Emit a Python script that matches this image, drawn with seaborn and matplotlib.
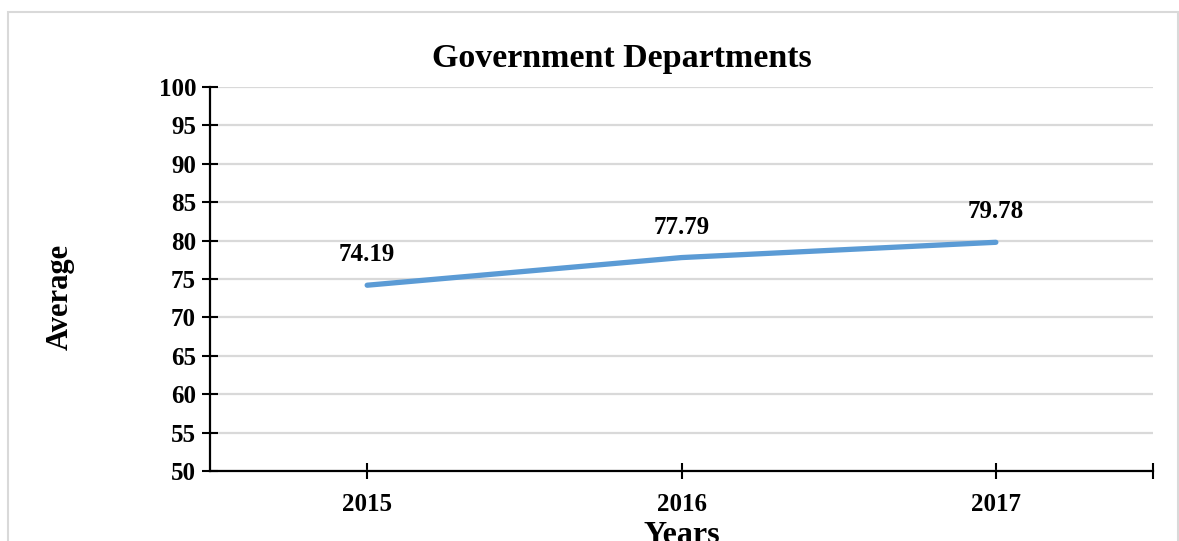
import matplotlib
matplotlib.use("Agg")
import matplotlib.pyplot as plt
from matplotlib.patches import Rectangle
import seaborn as sns
import pandas as pd

# Yearly averages for government departments
years = ["2015", "2016", "2017"]
averages = [74.19, 77.79, 79.78]
y_ticks = [50, 55, 60, 65, 70, 75, 80, 85, 90, 95, 100]

sns.set_theme(style="white")
plt.rcParams["font.family"] = ["Liberation Serif", "DejaVu Serif"]
plt.rcParams["font.weight"] = "bold"
plt.rcParams["text.color"] = "black"

df = pd.DataFrame({"Year": years, "Average": averages})

fig = plt.figure(figsize=(11.79, 5.41), dpi=100)
fig.patch.set_facecolor("white")
ax = fig.add_axes([210 / 1179, 1 - 471 / 541, (1153 - 210) / 1179, (471 - 87) / 541])

sns.lineplot(data=df, x="Year", y="Average", ax=ax, color="#5B9BD5",
             linewidth=3.8, solid_capstyle="round", solid_joinstyle="round",
             sort=False, zorder=3)

ax.set_xlim(-0.5, 2.5)
ax.set_ylim(50, 100)
ax.set_yticks(y_ticks)
ax.set_yticklabels([str(v) for v in y_ticks], fontsize=18, fontweight="bold")
ax.set_xticks([0, 1, 2, 2.5])
ax.set_xticklabels(years + [""], fontsize=18, fontweight="bold")

ax.yaxis.grid(True, color="#d9d9d9", linewidth=1.6)
ax.xaxis.grid(False)
ax.set_axisbelow(True)

for side in ("top", "right"):
    ax.spines[side].set_visible(False)
for side in ("left", "bottom"):
    ax.spines[side].set_color("black")
    ax.spines[side].set_linewidth(1.6)
    ax.spines[side].set_zorder(4)

ax.tick_params(axis="both", which="major", bottom=True, left=True,
               direction="inout", length=12, width=1.5,
               colors="black", labelcolor="black", pad=4)
ax.tick_params(axis="x", pad=10)

ax.set_xlabel("")
ax.set_ylabel("")

for i, v in enumerate(averages):
    ax.annotate(f"{v:.2f}", xy=(i, v), xytext=(0, 22), textcoords="offset points",
                ha="center", va="center", fontsize=18, fontweight="bold",
                color="black")

fig.text(622 / 1179, 1 - 58 / 541, "Government Departments", ha="center",
         va="center", fontsize=24.5, fontweight="bold", color="black")
fig.text(60 / 1179, 1 - 297 / 541, "Average", ha="center", va="center",
         rotation=90, fontsize=22, fontweight="bold", color="black")
fig.text(682 / 1179, 1 - 521 / 541, "Years", ha="center", va="top",
         fontsize=23, fontweight="bold", color="black")

# Light frame around the chart area
fig.patches.append(Rectangle((8 / 1179, -0.05), (1178 - 8) / 1179, 1.05 - 12.5 / 541,
                             transform=fig.transFigure, fill=False,
                             edgecolor="#d9d9d9", linewidth=1.5))

fig.savefig("out.png", dpi=100, facecolor="white")
